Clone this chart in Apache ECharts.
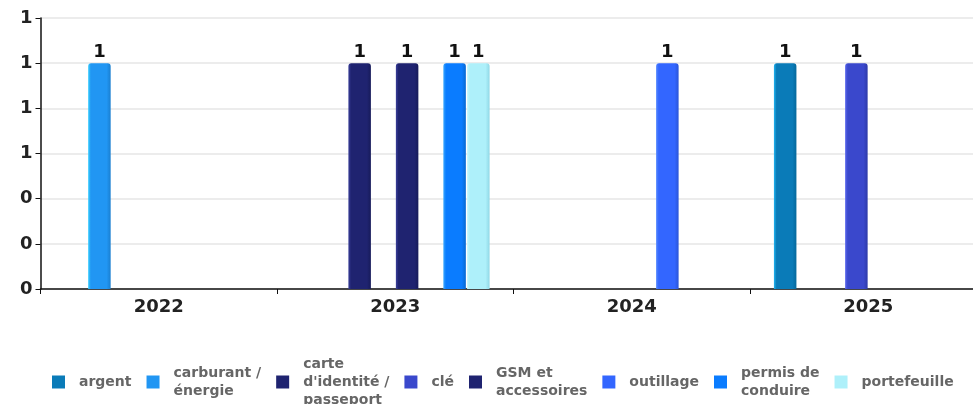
<!DOCTYPE html>
<html><head><meta charset="utf-8">
<script src="https://cdn.jsdelivr.net/npm/echarts@6/dist/echarts.min.js"></script>
<style>html,body{margin:0;padding:0;background:#fff}#c{width:973px;height:404px}</style>
</head><body><div id="c"></div>
<script>
const categories = ['2022', '2023', '2024', '2025'];
const seriesNames = ['argent', 'carburant / énergie', "carte d'identité / passeport", 'clé', 'GSM et accessoires', 'outillage', 'permis de conduire', 'portefeuille'];
const legendLabels = ['argent', 'carburant /\nénergie', "carte\nd'identité /\npasseport", 'clé', 'GSM et\naccessoires', 'outillage', 'permis de\nconduire', 'portefeuille'];
const argent = [null, null, null, 1];
const carburant = [1, null, null, null];
const carte = [null, 1, null, null];
const cle = [null, null, null, 1];
const gsm = [null, 1, null, null];
const outillage = [null, null, 1, null];
const permis = [null, 1, null, null];
const portefeuille = [null, 1, null, null];
const values = [argent, carburant, carte, cle, gsm, outillage, permis, portefeuille];
const yTicks = [0, 0.2, 0.4, 0.6, 0.8, 1, 1.2];

const colors = ['#0a7bb8', '#2196f3', '#1f2370', '#3a48cc', '#1f2370', '#3366ff', '#0a7cff', '#aef0fa'];
const lights = ['#20b4f0', '#3ad0ff', '#3a3f9a', '#5a68ee', '#3a3f9a', '#5588ff', '#3aa8ff', '#c8f8ff'];
const darks = ['#05689c', '#1a7fd0', '#171b5a', '#2d3aa8', '#171b5a', '#2a55d8', '#0868d0', '#90d8e6'];

const chart = echarts.init(document.getElementById('c'), null, {renderer: 'canvas'});
const series = seriesNames.map((n, i) => ({
  name: n,
  type: 'bar',
  data: values[i],
  barWidth: 22.5,
  barGap: '5.5%',
  itemStyle: {
    borderRadius: [3, 3, 0, 0],
    color: new echarts.graphic.LinearGradient(0, 0, 1, 0, [
      {offset: 0, color: lights[i]},
      {offset: 0.12, color: colors[i]},
      {offset: 0.82, color: colors[i]},
      {offset: 1, color: darks[i]}
    ])
  },
  label: {show: true, position: 'top', distance: 2, color: '#111', fontWeight: 'bold', fontSize: 18, fontFamily: 'DejaVu Sans'}
}));

chart.setOption({
  animation: false,
  color: colors,
  grid: {left: 40.5, width: 946, top: 18, bottom: 115, containLabel: false, outerBoundsMode: 'none'},
  legend: {
    data: seriesNames.map((n, i) => ({name: n, itemStyle: {color: colors[i]}})),
    formatter: function (name) { return legendLabels[seriesNames.indexOf(name)]; },
    left: 47, top: 350,
    icon: 'rect', itemWidth: 13, itemHeight: 13, itemGap: 15,
    textStyle: {color: '#666', fontWeight: 'bold', fontSize: 14, fontFamily: 'DejaVu Sans', lineHeight: 18, padding: [0, 0, 0, 9]}
  },
  xAxis: {
    type: 'category', data: categories,
    axisLine: {lineStyle: {color: '#111', width: 1.5}},
    axisTick: {show: true, length: 5, lineStyle: {color: '#111'}},
    axisLabel: {color: '#222', fontWeight: 'bold', fontSize: 18, fontFamily: 'DejaVu Sans', margin: 9}
  },
  yAxis: {
    type: 'value', min: yTicks[0], max: yTicks[yTicks.length - 1], interval: 0.2,
    axisLine: {show: true, lineStyle: {color: '#111', width: 1.5}},
    axisTick: {show: true, length: 5, lineStyle: {color: '#111'}},
    splitLine: {lineStyle: {color: '#e6e6e6', width: 1.5}},
    axisLabel: {color: '#222', fontWeight: 'bold', fontSize: 18, fontFamily: 'DejaVu Sans', margin: 8,
      formatter: v => String(Math.round(v))}
  },
  series: series
});
</script></body></html>
